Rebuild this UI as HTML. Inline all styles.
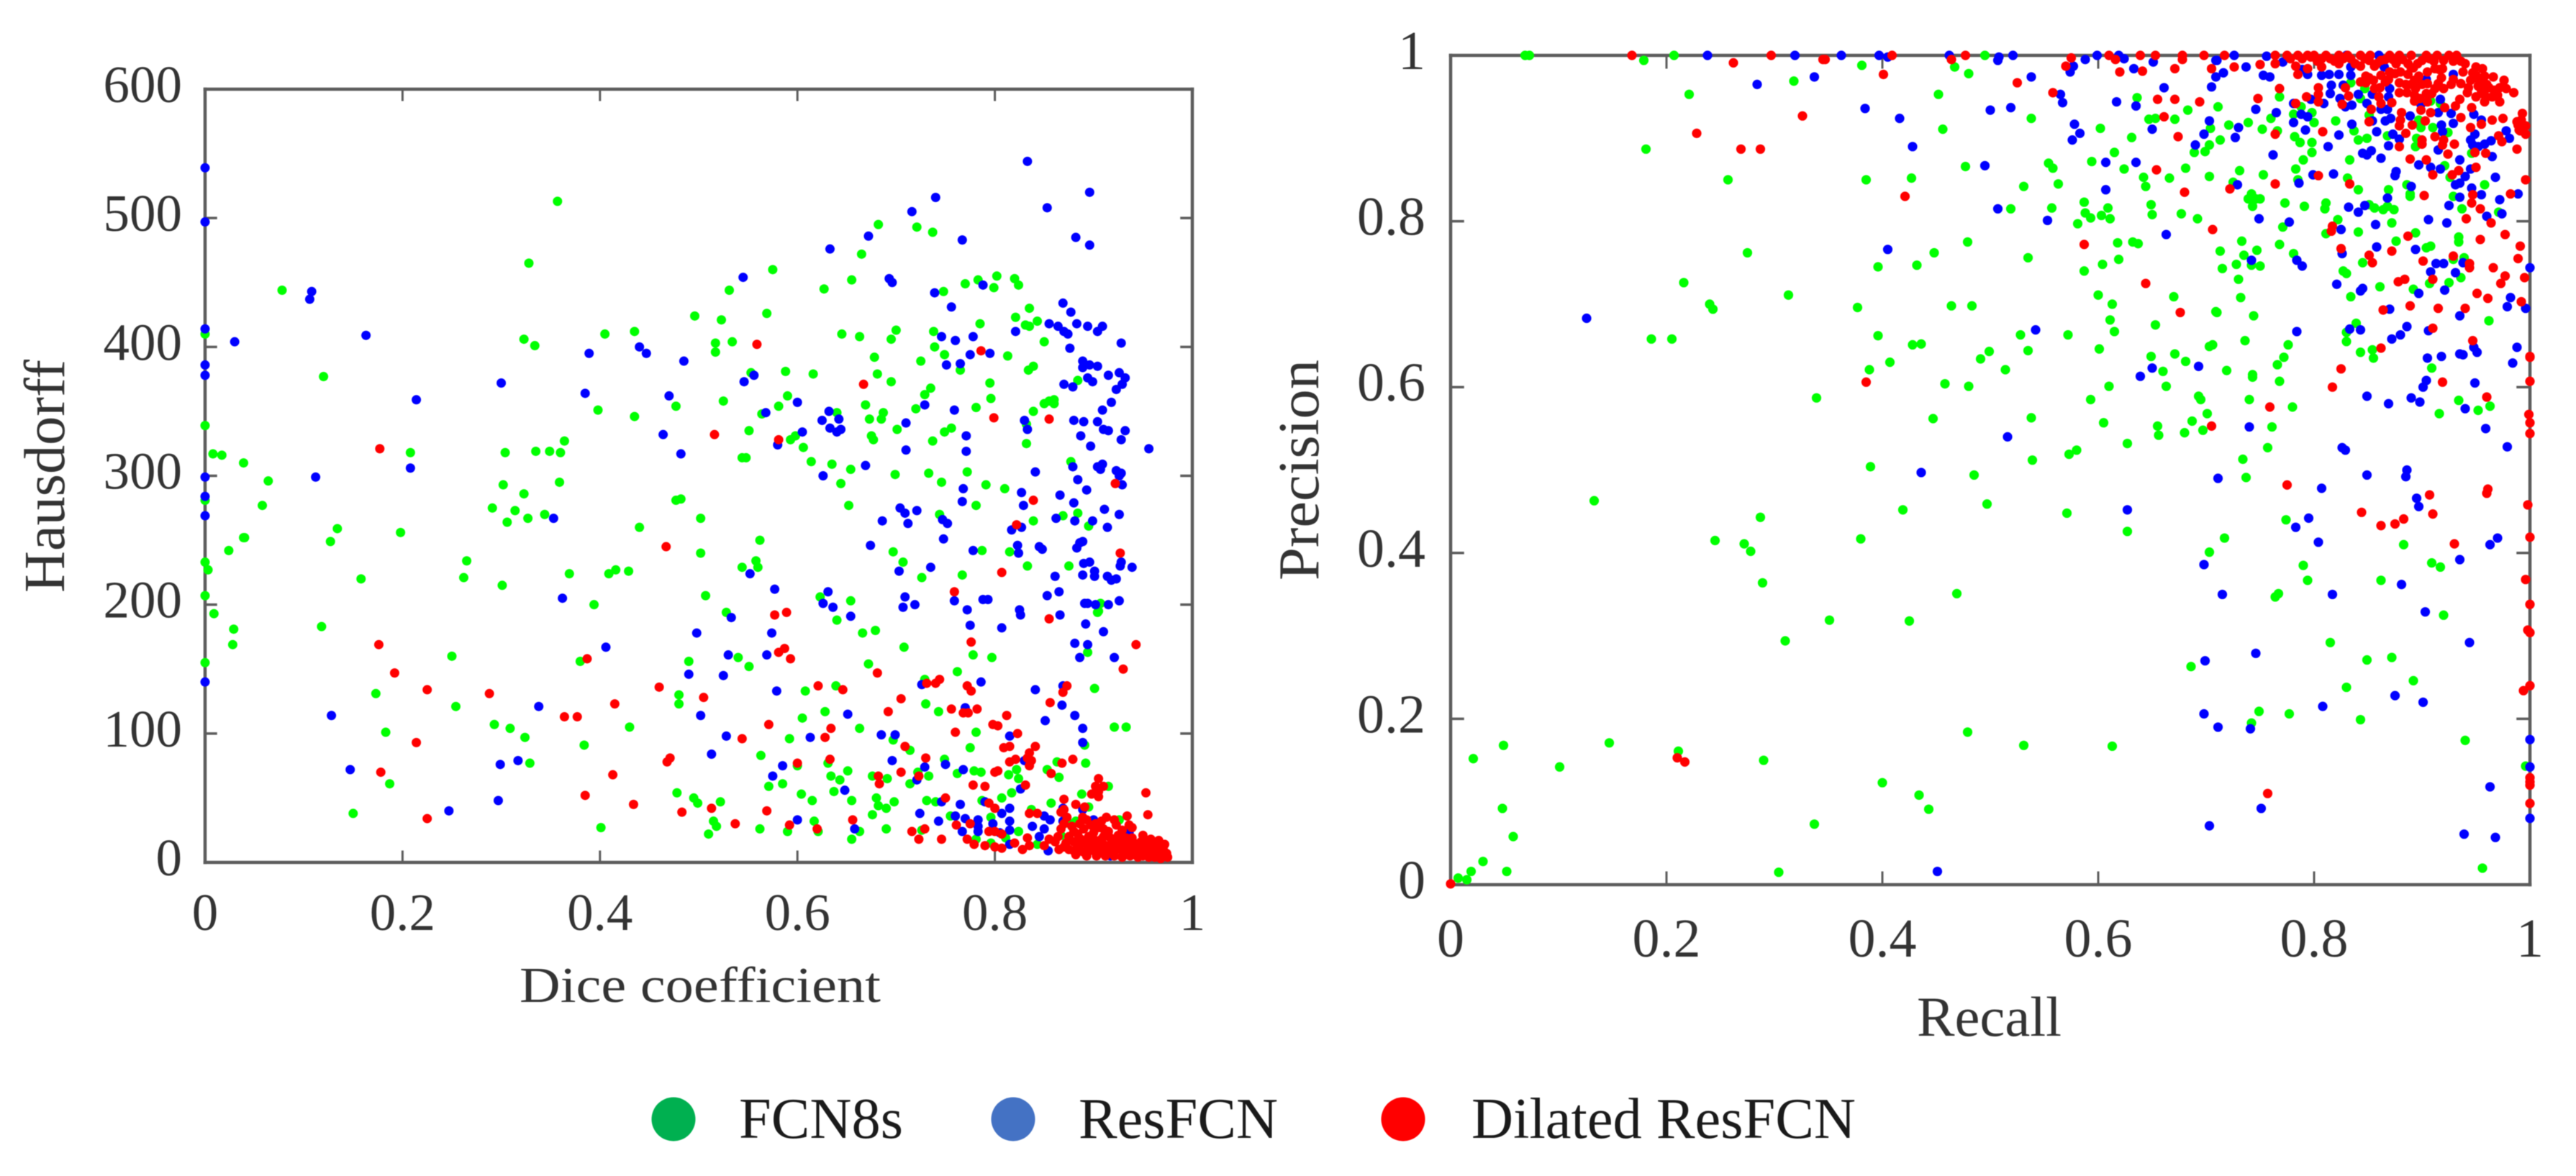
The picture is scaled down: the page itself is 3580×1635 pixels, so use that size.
<!DOCTYPE html>
<html lang="en">
<head>
<meta charset="utf-8">
<title>Segmentation scatter plots</title>
<style>
html,body{margin:0;padding:0;background:#fff;}
svg{display:block;filter:blur(0.6px);}
text{font-family:"Liberation Serif",serif;}
</style>
</head>
<body>
<svg id="figure" xmlns="http://www.w3.org/2000/svg" width="3580" height="1635" viewBox="0 0 3580 1635">
  <rect x="0" y="0" width="3580" height="1635" fill="#fff"/>
  <g id="left-chart"></g>
  <g id="right-chart"></g>
  <text x="722" y="1393" font-size="70" fill="#333" textLength="502" lengthAdjust="spacingAndGlyphs">Dice coefficient</text>
  <text transform="translate(89 824) rotate(-90)" font-size="80" fill="#333" textLength="324" lengthAdjust="spacingAndGlyphs">Hausdorff</text>
  <text x="2664" y="1440" font-size="78" fill="#333" textLength="201" lengthAdjust="spacingAndGlyphs">Recall</text>
  <text transform="translate(1832 807) rotate(-90)" font-size="80" fill="#333" textLength="307" lengthAdjust="spacingAndGlyphs">Precision</text>
  <g>
    <g>
      <circle cx="936" cy="1556" r="30.5" fill="#00B050"/>
      <text x="1027" y="1582" font-size="80" fill="#1a1a1a" textLength="228" lengthAdjust="spacingAndGlyphs">FCN8s</text>
    </g>
    <g>
      <circle cx="1408" cy="1556" r="30.5" fill="#4472C4"/>
      <text x="1499" y="1582" font-size="80" fill="#1a1a1a" textLength="277" lengthAdjust="spacingAndGlyphs">ResFCN</text>
    </g>
    <g>
      <circle cx="1950" cy="1556" r="30.5" fill="#FF0000"/>
      <text x="2045" y="1582" font-size="80" fill="#1a1a1a" textLength="534" lengthAdjust="spacingAndGlyphs">Dilated ResFCN</text>
    </g>
  </g>
</svg>
<script>
const diceTickLabels = ['0','0.2','0.4','0.6','0.8','1'];
const diceTicks = [0,0.2,0.4,0.6,0.8,1];
const hausdorffTicks = [0,100,200,300,400,500,600];
const recallTicks = [0,0.2,0.4,0.6,0.8,1];
const precisionTicks = [0,0.2,0.4,0.6,0.8,1];

const hausdorffFcn8s = [[.682,495],[.721,493],[.737,489],[.665,472],[.575,460],[.655,452],[.627,445],[.531,444],[.748,443],[.770,449],[.783,452],[.802,455],[.799,446],[.820,453],[.824,448],[.835,430],[.496,424],[.523,421],[.569,426],[.821,423],[.785,418],[.831,417],[.835,416],[.843,420],[.738,412],[.700,413],[.695,406],[.645,410],[.663,408],[.517,403],[.517,396],[.534,404],[.850,404],[.739,400],[.749,394],[.678,392],[.725,389],[.813,393],[.839,385],[.834,382],[.765,382],[.553,380],[.588,381],[.616,379],[.681,379],[.695,373],[.795,372],[.884,374],[.735,368],[.729,363],[.590,362],[.525,358],[.796,360],[.860,359],[.855,358],[.850,356],[.860,356],[.581,354],[.669,355],[.720,352],[.781,353],[.839,350],[.564,348],[.640,349],[.687,349],[.685,344],[.673,344],[.701,336],[.756,337],[.749,334],[.551,335],[.832,340],[.832,325],[.737,327],[.675,331],[.677,328],[.598,331],[.593,328],[.606,322],[.544,314],[.548,314],[.614,311],[.635,309],[.654,305],[.877,311],[.699,301],[.733,302],[.772,303],[.644,294],[.746,295],[.791,293],[.810,290],[.652,277],[.781,277],[.502,267],[.744,270],[.869,269],[.884,271],[.839,265],[.895,261],[.562,250],[.502,240],[.697,241],[.707,233],[.787,242],[.815,241],[.558,234],[.544,229],[.560,229],[.833,230],[.875,230],[.767,223],[.726,221],[.507,207],[.623,206],[.654,203],[.907,201],[.905,195],[.528,194],
[.078,444],[0,410],[.12,377],[.357,513],[.328,465],[.405,410],[.435,412],[.323,406],[.334,401],[.398,351],[.435,346],[.477,354],[0,339],[.008,317],[.017,316],[.039,310],[.064,296],[.058,277],[0,281],[.134,259],[.127,249],[.04,252],[.198,256],[.304,318],[.335,319],[.349,319],[.36,318],[.364,327],[.208,318],[.302,293],[.359,295],[.323,286],[.291,275],[.314,273],[.306,264],[.327,267],[.344,270],[.44,260],[.477,281],[.482,282],
[0,233],[.003,227],[0,207],[.009,193],[.029,181],[.028,169],[0,155],[.024,242],[.039,252],[.158,220],[.118,183],[.265,234],[.262,221],[.301,215],[.369,224],[.409,224],[.416,227],[.429,226],[.394,200],[.25,160],[.38,156],[.173,131],[.254,121],[.293,107],[.309,104],[.324,97],[.384,91],[.43,105],[.183,101],[.187,61],[.329,77],[.15,38],[.401,27],
[.904,194],[.894,163],[.778,161],[.797,159],[.54,159],[.551,152],[.49,156],[.672,154],[.708,167],[.666,178],[.679,180],[.64,188],[.762,148],[.48,130],[.48,123],[.729,142],[.639,137],[.608,133],[.901,135],[.73,123],[.743,117],[.628,117],[.605,112],[.921,105],[.933,105],[.663,104],[.781,101],[.592,96],[.697,95],[.775,89],[.891,91],[.563,83],[.714,87],[.749,80],[.863,78],[.892,77],[.853,72],[.6,75],[.631,77],[.651,71],[.762,69],[.779,71],[.786,70],[.722,70],[.676,67],[.691,65],[.634,67],[.643,64],[.733,67],[.822,72],[.814,68],[.824,65],[.865,66],[.714,61],[.915,59],[.585,61],[.571,59],[.637,55],[.478,54],[.604,53],[.817,54],[.807,50],[.495,50],[.615,48],[.499,46],[.522,47],[.68,50],[.655,48],[.698,47],[.731,48],[.74,47],[.682,44],[.69,42],[.787,48],[.888,53],[.857,46],[.676,37],[.755,36],[.617,32],[.515,32],[.518,28],[.562,26],[.59,24],[.51,22],[.621,24],[.69,26],[.663,24],[.655,18],[.726,25],[.796,35],[.824,24],[.882,32],[.837,41],[.926,33],[.895,43],[.781,18],[.796,15],[.811,19],[.843,14],[.867,21],[.876,30]];

const hausdorffResFcn = [[.833,544],[.896,520],[.853,508],[.740,516],[.716,505],[.672,486],[.633,476],[.767,483],[.882,485],[.896,479],[.545,454],[.693,453],[.696,450],[.739,442],[.788,448],[.756,431],[.869,434],[.877,427],[.855,418],[.864,416],[.870,412],[.874,410],[.883,418],[.894,416],[.904,412],[.909,416],[.821,412],[.928,403],[.876,399],[.746,408],[.760,405],[.778,408],[.775,394],[.795,395],[.751,386],[.765,387],[.889,389],[.889,384],[.896,386],[.904,385],[.915,378],[.926,380],[.932,376],[.894,376],[.899,373],[.870,371],[.879,369],[.929,371],[.923,367],[.556,378],[.546,373],[.600,357],[.568,349],[.632,350],[.625,343],[.642,344],[.633,337],[.644,336],[.640,334],[.605,334],[.580,324],[.710,341],[.729,355],[.759,351],[.918,357],[.909,351],[.830,343],[.833,336],[.880,343],[.890,342],[.904,342],[.910,336],[.915,335],[.932,335],[.928,328],[.887,331],[.897,323],[.956,321],[.771,331],[.771,319],[.710,320],[.669,308],[.626,300],[.879,307],[.904,307],[.909,309],[.907,305],[.841,303],[.923,304],[.928,302],[.926,300],[.884,297],[.929,293],[.893,289],[.768,290],[.827,287],[.866,285],[.767,280],[.829,277],[.880,279],[.704,275],[.709,271],[.721,273],[.911,274],[.926,270],[.862,267],[.881,265],[.899,265],[.686,265],[.712,263],[.747,266],[.752,263],[.827,260],[.817,258],[.914,260],[.748,251],[.674,246],[.823,246],[.845,245],[.848,243],[.889,249],[.886,248],[.883,244],[.778,242],[.824,240],[.890,232],[.896,233],[.928,233],[.927,230],[.939,229],[.735,229],[.703,226],[.552,224],[.861,222],[.889,223],[.901,226],[.901,222],[.914,222],[.918,219],[.923,220],[.577,212],[.865,210],[.853,207],[.631,210],[.709,206],[.626,201],[.636,198],[.707,198],[.719,200],[.759,203],[.788,204],[.793,204],[.772,196],[.825,196],[.826,192],[.891,201],[.894,201],[.902,200],[.915,200],[.926,203],[.866,192],[.654,191],[.533,190],
[0,539],[0,497],[0,414],[.03,404],[.108,443],[.106,437],[.163,409],[0,386],[0,378],[.214,359],[.30,372],[.389,395],[.44,400],[.447,395],[.485,389],[.385,364],[.47,362],[.464,332],[.482,317],[0,299],[.112,299],[.208,306],[0,284],[0,269],[.353,267],
[.362,205],[.406,167],[0,140],[.128,114],[.338,121],[.147,72],[.299,76],[.317,79],[.297,48],[.247,40],
[.775,184],[.807,182],[.892,185],[.91,179],[.498,178],[.574,178],[.881,170],[.894,169],[.886,159],[.921,159],[.53,161],[.569,161],[.49,146],[.525,145],[.726,138],[.786,140],[.841,134],[.869,137],[.579,133],[.77,120],[.868,122],[.502,114],[.651,115],[.881,114],[.851,110],[.889,104],[.528,98],[.613,97],[.685,99],[.699,99],[.815,98],[.889,93],[.513,84],[.696,79],[.83,79],[.729,74],[.585,75],[.75,76],[.768,72],[.575,67],[.721,64],[.648,56],[.826,57],[.746,47],[.765,45],[.724,38],[.807,38],[.815,42],[.76,36],[.77,34],[.6,33],[.743,32],[.783,33],[.783,28],[.783,24],[.815,32],[.838,28],[.85,36],[.856,33],[.85,26],[.869,42],[.869,32],[.889,41],[.9,33],[.658,26],[.767,24],[.798,30],[.805,23],[.815,25],[.845,20],[.854,9],[.815,14],[.902,8],[.917,5],[.936,23],[.79,47]];

const hausdorffDilated = [[.559,402],[.786,397],[.667,371],[.799,345],[.855,344],[.516,332],[.581,328],[.922,294],[.839,281],[.822,262],[.927,240],[.807,225],[.759,210],[.577,192],[.589,194],[.855,189],[.177,321],[.467,245],[.176,169],[.192,147],[.387,158],[.225,134],[.288,131],[.415,123],[.364,113],[.377,113],[.214,93],[.178,70],[.413,68],[.385,52],[.434,45],[.225,34],
[.776,171],[.943,169],[.581,163],[.587,166],[.593,158],[.93,150],[.681,147],[.46,136],[.505,128],[.621,137],[.646,134],[.731,139],[.74,139],[.744,142],[.772,137],[.776,133],[.873,137],[.869,132],[.705,127],[.856,124],[.692,117],[.756,119],[.782,119],[.768,116],[.773,116],[.812,114],[.571,107],[.798,107],[.803,106],[.634,104],[.544,96],[.628,97],[.76,101],[.823,100],[.809,89],[.815,90],[.841,90],[.709,90],[.471,81],[.468,78],[.633,80],[.73,81],[.835,85],[.833,81],[.815,78],[.821,80],[.837,79],[.835,75],[.879,80],[.868,77],[.6,77],[.705,70],[.8,70],[.803,71],[.857,69],[.682,67],[.723,67],[.683,61],[.778,60],[.79,59],[.831,60],[.905,65],[.91,59],[.902,59],[.905,55],[.953,54],[.898,53],[.905,51],[.75,50],[.87,49],[.794,46],[.8,42],[.882,45],[.891,43],[.87,41],[.513,42],[.483,39],[.569,40],[.835,38],[.843,38],[.867,39],[.873,35],[.889,35],[.955,37],[.656,33],[.537,30],[.592,29],[.775,30],[.761,29],[.62,26],[.729,26],[.716,24],[.723,18],[.746,18],[.794,24],[.8,24],[.807,22],[.772,18],[.779,14],[.79,13],[.8,12],[.807,11],[.82,15],[.828,10],[.835,13],[.833,19],
[.861,16],[.867,26],[.872,15],[.88,9],[.884,22],[.891,15],[.897,29],[.9,23],[.904,16],[.908,10],[.913,35],[.917,19],[.923,29],[.928,15],[.934,36],[.936,29],[.932,9],[.939,19],[.945,11],[.95,21],[.954,12],[.96,14],[.964,8],[.967,12],[.971,9],[.975,4],[.96,10],[.965,5],[.89,8],[.90,9],[.91,7],[.92,11],[.93,6],[.94,7],[.95,5],[.955,6],[.96,6],[.965,9],[.97,5],[.94,14],[.95,13],[.96,8],[.925,21],[.915,24],[.905,27],[.895,20],[.885,12],[.875,20],[.865,10],[.92,9],[.93,13],[.945,8],[.85,13],[.855,18],[.87,12],[.88,16],[.895,12],[.91,14],[.92,17],[.93,19],[.94,11],[.95,9],[.955,16],[.97,8],[.965,13],[.91,20],[.9,18],[.89,26],[.88,24],[.905,12],[.915,10],
[.875,10],[.882,6],[.887,18],[.893,5],[.898,14],[.903,5],[.908,18],[.912,5],[.916,13],[.921,5],[.925,14],[.929,4],[.933,19],[.937,5],[.941,15],[.945,4],[.948,16],[.952,9],[.956,4],[.958,18],[.962,4],[.966,17],[.968,3],[.972,14],[.974,7],[.864,20],[.87,30],[.878,28],[.886,30],[.893,33],[.897,10],[.908,32],[.921,33],[.929,25],[.939,27],[.91,26],[.902,30],[.918,8],[.927,10],[.935,13],[.942,10],[.947,7],[.953,15],[.958,12],[.963,11],[.968,10],[.971,13]];

const recallFcn8s = [[.069,1],[.073,1],[.179,.994],[.207,1],[.381,.988],[.318,.969],[.221,.953],[.181,.887],[.257,.850],[.385,.850],[.427,.852],[.275,.762],[.396,.745],[.432,.747],[.216,.726],[.240,.700],[.243,.694],[.313,.711],[.377,.696],[.396,.662],[.428,.651],[.436,.652],[.186,.658],[.205,.658],[.407,.630],[.388,.621],[.339,.587],[.389,.504],
[.467,.986],[.48,.978],[.495,1],[.452,.953],[.456,.911],[.538,.924],[.636,.949],[.683,.934],[.647,.923],[.653,.924],[.671,.923],[.602,.912],[.631,.901],[.704,.912],[.615,.883],[.594,.872],[.703,.892],[.699,.884],[.689,.883],[.477,.866],[.554,.87],[.558,.864],[.624,.863],[.681,.864],[.642,.853],[.666,.852],[.703,.854],[.644,.842],[.531,.842],[.563,.845],[.587,.823],[.519,.815],[.557,.816],[.649,.82],[.609,.816],[.588,.81],[.593,.804],[.603,.807],[.611,.803],[.581,.797],[.65,.808],[.677,.809],[.692,.803],[.479,.775],[.448,.762],[.535,.756],[.618,.774],[.632,.775],[.637,.773],[.619,.754],[.604,.748],[.587,.74],[.6,.711],[.613,.7],[.67,.709],[.464,.698],[.483,.698],[.709,.691],[.611,.681],[.615,.667],[.653,.675],[.528,.663],[.572,.663],[.535,.644],[.601,.646],[.499,.643],[.491,.634],[.703,.649],[.706,.651],[.671,.64],[.649,.637],[.681,.631],[.66,.619],[.514,.621],[.458,.604],[.48,.601],[.61,.601],[.663,.601],[.593,.585],[.693,.589],[.695,.585],[.538,.563],[.447,.562],[.605,.557],[.701,.568],[.687,.559],[.655,.553],[.656,.542],[.68,.545],[.697,.548],[.627,.532],[.58,.524],[.573,.519],[.539,.512],[.485,.494],
[.74,.585],[.78,.576],[.934,.584],[.916,.568],[.952,.572],[.963,.577],[.768,.607],[.743,.612],[.761,.552],[.734,.513],[.737,.491],[.757,.527],
[.711,.938],[.739,.919],[.721,.916],[.713,.898],[.752,.911],[.766,.909],[.76,.924],[.768,.95],[.781,.929],[.788,.938],[.798,.931],[.8,.919],[.82,.921],[.837,.909],[.782,.902],[.787,.895],[.798,.895],[.798,.883],[.79,.874],[.833,.874],[.841,.898],[.849,.9],[.868,.903],[.895,.9],[.894,.89],[.899,.913],[.91,.913],[.897,.922],[.924,.907],[.917,.942],[.908,.945],[.851,.928],[.843,.948],[.847,.96],[.834,.967],[.946,.882],[.921,.867],[.783,.863],[.731,.861],[.753,.856],[.785,.85],[.725,.847],[.831,.852],[.841,.838],[.958,.844],[.926,.853],[.886,.844],[.869,.838],[.889,.833],[.889,.83],[.929,.83],[.742,.833],[.739,.827],[.746,.827],[.75,.827],[.743,.818],[.773,.822],[.791,.818],[.811,.822],[.81,.815],[.851,.82],[.856,.816],[.864,.814],[.868,.818],[.874,.814],[.937,.815],[.971,.811],[.822,.802],[.872,.798],[.771,.793],[.811,.785],[.841,.787],[.894,.786],[.876,.776],[.733,.776],[.768,.772],[.934,.781],[.934,.775],[.908,.77],[.904,.768],[.713,.764],[.747,.765],[.735,.759],[.781,.761],[.728,.748],[.742,.747],[.75,.746],[.715,.743],[.845,.75],[.929,.754],[.939,.756],[.73,.73],[.827,.74],[.83,.737],[.936,.732],[.925,.726],[.907,.725],[.861,.721],[.892,.718],[.732,.708],[.834,.709],[.744,.686],[.71,.69],[.962,.68],[.839,.677],[.83,.666],[.83,.655],[.736,.656],[.776,.651],[.843,.642],[.854,.645],[.855,.635],[.772,.636],[.766,.627],[.909,.623],[.719,.62],[.743,.615],
[.133,.463],[.287,.443],[.419,.452],[.497,.459],[.571,.448],[.245,.415],[.272,.411],[.278,.402],[.38,.417],[.627,.426],[.289,.364],[.469,.351],[.351,.319],[.425,.318],[.31,.294],[.717,.418],[.703,.401],[.774,.44],[.79,.385],[.794,.367],[.764,.347],[.767,.351],[.862,.367],[.883,.41],[.909,.388],[.917,.383],[.92,.325],[.815,.292],[.849,.271],[.872,.274],[.686,.263],[.83,.238],[.892,.246],[.742,.195],[.749,.209],[.777,.206],[.843,.199],[.94,.174],[.479,.184],[.531,.168],[.613,.167],[.147,.171],[.049,.168],[.021,.152],[.101,.142],[.211,.161],[.29,.15],[.4,.123],[.434,.108],[.443,.091],[.048,.092],[.058,.058],[.337,.073],[.03,.028],[.019,.016],[.052,.016],[.304,.015],[.956,.02],[.007,.008],[.015,.006],[.996,.143]];

const recallResFcn = [[.238,1],[.319,1],[.362,1],[.397,1],[.405,.998],[.337,.974],[.284,.965],[.384,.936],[.416,.924],[.428,.890],[.405,.766],[.126,.683],[.436,.497],
[.462,1],[.508,.998],[.507,.994],[.521,1],[.538,.974],[.565,.953],[.567,.943],[.5,.934],[.519,.937],[.574,.98],[.577,.987],[.588,.995],[.599,1],[.619,1],[.624,.996],[.633,.984],[.651,.992],[.709,.994],[.661,.961],[.705,.962],[.709,.974],[.617,.944],[.635,.939],[.578,.917],[.583,.906],[.576,.898],[.65,.911],[.703,.921],[.698,.905],[.69,.892],[.607,.871],[.635,.871],[.495,.867],[.607,.838],[.507,.815],[.553,.801],[.663,.784],[.542,.669],[.693,.625],[.65,.623],[.639,.613],[.516,.54],[.711,.49],
[.849,.589],[.869,.58],[.89,.587],[.898,.582],[.94,.574],[.74,.552],[.959,.55],[.826,.527],[.829,.524],[.979,.528],[.849,.494],[.886,.5],[.885,.492],[.807,.478],[.949,.605],[.901,.6],[.904,.608],
[.71,.994],[.726,1],[.716,.979],[.737,.986],[.756,.999],[.753,.976],[.759,.974],[.771,.992],[.789,.983],[.794,.977],[.807,.976],[.814,.977],[.823,.977],[.834,.986],[.834,.976],[.83,1],[.86,1],[.865,.986],[.816,.964],[.815,.954],[.827,.964],[.824,.948],[.841,.953],[.854,.953],[.87,.96],[.869,.95],[.904,.971],[.929,.977],
[.809,.942],[.797,.947],[.746,.935],[.765,.931],[.781,.942],[.788,.929],[.794,.926],[.781,.919],[.829,.938],[.835,.94],[.849,.942],[.862,.935],[.868,.935],[.899,.941],[.917,.947],[.915,.931],[.927,.93],[.929,.918],[.948,.929],[.955,.922],[.889,.927],[.866,.921],[.871,.924],[.854,.921],[.835,.917],[.792,.91],[.73,.913],[.727,.901],[.823,.904],[.858,.908],[.918,.916],[.919,.908],[.873,.905],[.879,.899],[.949,.905],[.945,.898],[.978,.909],[.981,.9],[.964,.897],[.958,.893],[.952,.89],[.947,.892],[.813,.89],[.869,.891],[.915,.886],[.845,.882],[.853,.885],[.849,.88],[.762,.88],[.862,.876],[.965,.878],[.935,.874],[.897,.868],[.908,.865],[.917,.863],[.818,.857],[.799,.856],[.876,.86],[.875,.855],[.945,.863],[.94,.854],[.968,.853],[.729,.844],[.786,.846],[.931,.844],[.935,.846],[.89,.842],[.946,.84],[.868,.828],[.935,.829],[.955,.832],[.989,.833],[.972,.826],[.925,.819],[.832,.817],[.847,.819],[.841,.811],[.974,.809],[.96,.806],[.749,.803],[.777,.799],[.906,.802],[.923,.798],[.857,.796],[.825,.79],[.858,.769],[.894,.766],[.826,.761],[.742,.753],[.784,.753],[.789,.746],[.913,.749],[.92,.749],[.938,.75],[.908,.739],[.931,.738],[1,.744],[.821,.724],[.845,.719],[.843,.716],[.897,.713],[.921,.717],[.982,.708],[.979,.697],[.996,.695],[.87,.694],[.935,.686],[.784,.667],[.833,.67],[.843,.669],[.886,.673],[.88,.663],[.872,.658],[.906,.668],[.948,.648],[.951,.642],[.988,.648],[.935,.64],[.938,.639],[.905,.635],[.918,.637],[.984,.629],
[.627,.452],[.795,.442],[.783,.431],[.804,.413],[.698,.386],[.715,.35],[.817,.35],[.881,.362],[.935,.392],[.963,.41],[.97,.418],[.895,.466],[.897,.456],[.903,.329],[.944,.292],[.699,.27],[.746,.279],[.698,.206],[.711,.19],[.741,.188],[.808,.215],[.875,.228],[.901,.22],[1,.175],[1,.142],[.963,.118],[.751,.092],[.703,.071],[.939,.061],[.968,.057],[1,.08],[.451,.016]];

const recallDilated = [[.168,1],[.262,.991],[.297,1],[.347,.995],[.345,.995],[.409,1],[.401,.977],[.326,.927],[.228,.906],[.269,.887],[.287,.887],[.421,.830],[.385,.606],
[.464,.995],[.477,1],[.525,.967],[.558,.955],[.575,.997],[.57,.987],[.61,1],[.616,.995],[.639,1],[.653,1],[.678,1],[.678,.995],[.698,1],[.62,.98],[.641,.981],[.671,.984],[.705,.984],[.655,.947],[.671,.947],[.694,.944],[.661,.926],[.674,.902],[.654,.862],[.68,.835],[.706,.79],[.587,.772],[.644,.725],[.676,.69],
[.817,.6],[.919,.606],[.96,.588],[.759,.576],[1,.607],[1,.636],[.999,.567],[1,.557],[1,.544],[.705,.553],[.775,.482],[.961,.477],
[.717,1],[.726,.986],[.75,.989],[.764,1],[.764,.99],[.778,.996],[.785,1],[.783,.987],[.785,.977],[.794,.984],[.794,1],[.8,1],[.807,.996],[.807,.986],[.815,.996],[.823,1],[.823,.99],[.834,.996],[.843,1],[.843,.987],[.851,.994],[.856,.987],[.862,.994],[.87,1],[.879,1],[.876,.99],[.887,.99],[.896,.99],[.904,1],[.911,.993],[.92,.994],[.929,.993],[.936,.993],[.919,.984],
[.843,.968],[.848,.967],[.851,.973],[.856,.96],[.861,.961],[.862,.976],[.869,.971],[.879,.967],[.879,.955],[.887,.977],[.89,.965],[.894,.96],[.893,.945],[.905,.966],[.904,.954],[.909,.954],[.905,.944],[.916,.983],[.918,.973],[.915,.966],[.929,.971],[.936,.966],[.943,.961],[.95,.986],[.956,.984],[.947,.979],[.95,.976],[.952,.963],[.966,.974],[.976,.97],[.962,.961],[.972,.961],[.958,.952],[.958,.944],[.972,.944],[.985,.955],[.935,.947],[.931,.939],
[.804,.961],[.804,.953],[.804,.944],[.829,.961],[.832,.951],[.826,.941],[.768,.96],[.748,.948],[.793,.95],[.783,.942],
[.862,.942],[.872,.943],[.853,.935],[.921,.937],[.899,.934],[.908,.931],[.881,.931],[.946,.937],[.88,.922],[.879,.915],[.851,.92],[.891,.916],[.903,.921],[.936,.925],[.965,.922],[.975,.924],[.992,.922],[.989,.916],[.996,.915],[.991,.909],[.945,.913],[.955,.917],[.808,.908],[.764,.905],[.885,.906],[.912,.902],[.971,.903],[.974,.896],[.9,.898],[.9,.893],[.92,.898],[.919,.892],[.93,.893],[.879,.89],[.988,.887],[.924,.881],[.949,.883],[.959,.882],[.889,.875],[.904,.874],[.95,.865],[.934,.861],[.928,.856],[.91,.856],[.804,.855],[.764,.845],[.833,.845],[.722,.839],[.996,.85],[.902,.831],[.947,.832],[.982,.833],[.946,.822],[.954,.815],[.941,.803],[.964,.798],[.817,.794],[.816,.788],[.977,.784],[.887,.782],[.954,.778],[.825,.767],[.991,.77],[.872,.764],[.851,.759],[.854,.75],[.929,.758],[.901,.752],[.989,.755],[.944,.749],[.944,.744],[.966,.744],[.977,.734],[.995,.732],[.91,.73],[.884,.73],[.878,.727],[.973,.725],[.951,.713],[.961,.707],[.992,.703],[.889,.698],[.915,.695],[.864,.693],[.94,.695],[.91,.671],[.947,.656],[.862,.647],[1,.637],[.825,.622],
[.844,.449],[.862,.433],[.875,.435],[.883,.441],[.91,.447],[.907,.47],[.96,.472],[.998,.458],[1,.419],[.93,.411],[.996,.368],[1,.338],[.998,.307],[1,.304],[.994,.234],[1,.24],[.21,.153],[.217,.148],[.757,.11],[1,.129],[1,.124],[1,.12],[1,.098],[0,.001],
[.775,1],[.789,.996],[.797,.998],[.803,.993],[.811,1],[.819,.993],[.827,.996],[.831,1],[.838,.99],[.847,.996],[.852,1],[.858,.99],[.866,.995],[.873,.995],[.882,.995],[.89,1],[.892,.985],[.9,.994],[.907,.996],[.914,1],[.925,1],[.932,1],[.94,.99],[.912,.984],[.905,.98],[.897,.975],[.9,.965],[.893,.97],[.885,.965],[.875,.978],[.87,.98],[.893,.952],[.898,.948],[.886,.955],[.912,.96],[.92,.96],[.927,.965],[.945,.97],[.953,.97],[.958,.975],[.96,.965],[.967,.958],[.965,.95],[.97,.952],[.978,.96],[.95,.95],[.955,.958],[.942,.955],[.848,.975],[.855,.97],[.866,.968],[.86,.95],[.89,.985],[.88,.98],[.938,.98],[.996,.905],[.988,.92],[.993,.93],[.99,.91]];

const SVG_NS = 'http://www.w3.org/2000/svg';
const AXIS_COLOR = '#5c5c5c';
const LABEL_COLOR = '#333';

function linear(d0, d1, r0, r1) {
  return function (v) { return r0 + (v - d0) / (d1 - d0) * (r1 - r0); };
}
function line(parent, x1, y1, x2, y2, width, name) {
  const el = document.createElementNS(SVG_NS, 'line');
  
  
  el.setAttribute('x1', x1);
  el.setAttribute('y1', y1);
  el.setAttribute('x2', x2);
  el.setAttribute('y2', y2);
  el.setAttribute('stroke', AXIS_COLOR);
  el.setAttribute('stroke-width', width);
  el.setAttribute('stroke-linecap', 'square');
  parent.appendChild(el);
}
function label(parent, x, y, str, anchor, size, name) {
  const el = document.createElementNS(SVG_NS, 'text');
  
  
  el.setAttribute('x', x);
  el.setAttribute('y', y);
  el.setAttribute('text-anchor', anchor);
  el.setAttribute('font-size', size);
  el.setAttribute('fill', LABEL_COLOR);
  el.textContent = str;
  parent.appendChild(el);
}
function drawAxes(parent, box, sx, sy, xTicks, yTicks, cfg) {
  xTicks.forEach(function (t) {
    const x = sx(t);
    label(parent, x, cfg.xLabelY, String(t), 'middle', cfg.fontSize, 'x-tick-label');
    if (t > 0 && t < 1) {
      line(parent, x, box.bottom, x, box.bottom - cfg.tick, 3, 'x-tick');
      line(parent, x, box.top, x, box.top + cfg.tick, 3, 'x-tick-top');
    }
  });
  yTicks.forEach(function (t, i) {
    const y = sy(t);
    label(parent, cfg.yLabelX, y + cfg.yLabelDy, String(t), 'end', cfg.fontSize, 'y-tick-label');
    if (i > 0 && i < yTicks.length - 1) {
      line(parent, box.left, y, box.left + cfg.tick, y, 3.5, 'y-tick');
      line(parent, box.right, y, box.right - cfg.tick, y, 3.5, 'y-tick-right');
    }
  });
  line(parent, box.left, box.top, box.right, box.top, 4.5, 'axis-top');
  line(parent, box.left, box.bottom, box.right, box.bottom, 4.5, 'axis-bottom');
  line(parent, box.left, box.top, box.left, box.bottom, 4.5, 'axis-left');
  line(parent, box.right, box.top, box.right, box.bottom, 4.5, 'axis-right');
}
function drawPoints(parent, points, sx, sy, color, radius, name) {
  points.forEach(function (p) {
    const el = document.createElementNS(SVG_NS, 'circle');
    
    
    el.setAttribute('cx', sx(p[0]));
    el.setAttribute('cy', sy(p[1]));
    el.setAttribute('r', radius);
    el.setAttribute('fill', color);
    parent.appendChild(el);
  });
}

const leftBox = { left: 285, right: 1657, top: 124, bottom: 1199 };
const rightBox = { left: 2016, right: 3516, top: 77, bottom: 1230 };
const leftX = linear(0, 1, leftBox.left, leftBox.right);
const leftY = linear(0, 600, leftBox.bottom, leftBox.top);
const rightX = linear(0, 1, rightBox.left, rightBox.right);
const rightY = linear(0, 1, rightBox.bottom, rightBox.top);
const leftGroup = document.getElementById('left-chart');
const rightGroup = document.getElementById('right-chart');

drawAxes(leftGroup, leftBox, leftX, leftY, diceTicks, hausdorffTicks, { xLabelY: 1293, yLabelX: 253, yLabelDy: 18, fontSize: 73, tick: 15 });
drawPoints(leftGroup, hausdorffFcn8s, leftX, leftY, '#00FF00', 6.5, 'point-fcn8s');
drawPoints(leftGroup, hausdorffResFcn, leftX, leftY, '#0000FF', 6.5, 'point-resfcn');
drawPoints(leftGroup, hausdorffDilated, leftX, leftY, '#FF0000', 6.5, 'point-dilated-resfcn');

drawAxes(rightGroup, rightBox, rightX, rightY, recallTicks, precisionTicks, { xLabelY: 1330, yLabelX: 1981, yLabelDy: 19, fontSize: 76, tick: 17 });
drawPoints(rightGroup, recallFcn8s, rightX, rightY, '#00FF00', 6.6, 'point-fcn8s');
drawPoints(rightGroup, recallResFcn, rightX, rightY, '#0000FF', 6.6, 'point-resfcn');
drawPoints(rightGroup, recallDilated, rightX, rightY, '#FF0000', 6.6, 'point-dilated-resfcn');
</script>
</body>
</html>
